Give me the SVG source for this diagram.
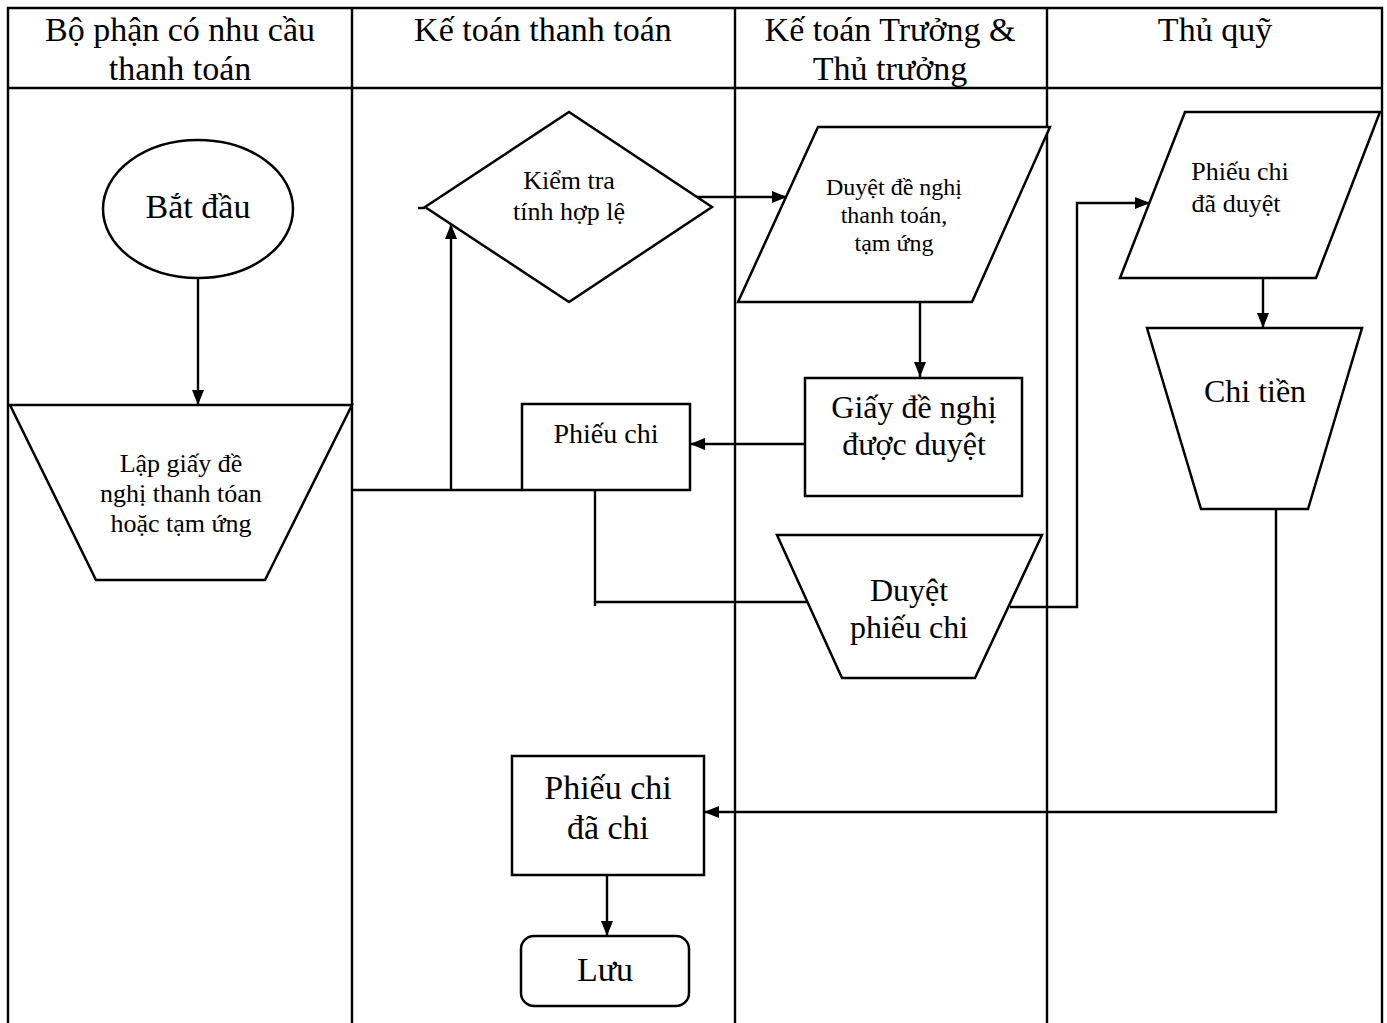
<svg xmlns="http://www.w3.org/2000/svg" width="1387" height="1023" viewBox="0 0 1387 1023">
<defs>
<style>
.ln{stroke:#000;stroke-width:2.4;fill:none}
.sh{stroke:#000;stroke-width:2.5;fill:#fff}
text{font-family:"Liberation Serif","Times New Roman",serif;fill:#000;text-anchor:middle}
.h{font-size:34px}
.t26{font-size:26px}
.t24{font-size:24px}
.t28{font-size:28px}
.t32{font-size:32px}
.t34{font-size:34px}
</style>
<marker id="ah" viewBox="0 0 15 12" refX="15" refY="6" markerWidth="15" markerHeight="12" markerUnits="userSpaceOnUse" orient="auto">
<path d="M0,0 L15,6 L0,12 z" fill="#000"/>
</marker>
</defs>
<rect width="1387" height="1023" fill="#fff"/>
<g id="lanes" font-family="Liberation Serif, serif">
<path class="ln" d="M8,1023 V8 H1382 V1023 M8,88 H1382 M352,8 V1023 M735,8 V1023 M1047,8 V1023"/>
<text class="h" x="180" y="41">Bộ phận có nhu cầu</text>
<text class="h" x="180" y="80">thanh toán</text>
<text class="h" x="543" y="41">Kế toán thanh toán</text>
<text class="h" x="890" y="41">Kế toán Trưởng &amp;</text>
<text class="h" x="890" y="80">Thủ trưởng</text>
<text class="h" x="1215" y="41">Thủ quỹ</text>
</g>
<g id="connectors">
<line class="ln" x1="198" y1="278" x2="198" y2="405" marker-end="url(#ah)"/>
<polyline class="ln" points="352,490 522,490"/>
<polyline class="ln" points="451,490 451,224" marker-end="url(#ah)"/>
<line class="ln" x1="418" y1="208" x2="425" y2="208"/>
<line class="ln" x1="695" y1="197" x2="787" y2="197" marker-end="url(#ah)"/>
<line class="ln" x1="920" y1="302" x2="920" y2="377" marker-end="url(#ah)"/>
<line class="ln" x1="805" y1="444" x2="690" y2="444" marker-end="url(#ah)"/>
<polyline class="ln" points="595,490 595,602 808,602"/>
<line class="ln" x1="595" y1="602" x2="595" y2="606"/>
<polyline class="ln" points="1010,607 1077,607 1077,203 1150,203" marker-end="url(#ah)"/>
<line class="ln" x1="1263" y1="278" x2="1263" y2="328" marker-end="url(#ah)"/>
<polyline class="ln" points="1276,509 1276,812 704,812" marker-end="url(#ah)"/>
<line class="ln" x1="607" y1="875" x2="607" y2="936" marker-end="url(#ah)"/>
</g>
<g id="start">
<ellipse class="sh" cx="198" cy="209" rx="95" ry="69"/>
<text class="t34" x="198" y="218">Bắt đầu</text>
</g>
<g id="lap-giay">
<polygon class="sh" points="10,405 352,405 265,580 96,580"/>
<text class="t26" x="181" y="472">Lập giấy đề</text>
<text class="t26" x="181" y="502">nghị thanh tóan</text>
<text class="t26" x="181" y="532">hoặc  tạm ứng</text>
</g>
<g id="kiem-tra">
<polygon class="sh" points="425,207 569,112 712,207 569,302"/>
<text class="t26" x="569" y="189">Kiểm tra</text>
<text class="t26" x="569" y="220">tính hợp lệ</text>
</g>
<g id="duyet-de-nghi">
<polygon class="sh" points="818,127 1050,127 972,302 738,302"/>
<text class="t24" x="894" y="195">Duyệt đề nghị</text>
<text class="t24" x="894" y="223">thanh toán,</text>
<text class="t24" x="894" y="251">tạm ứng</text>
</g>
<g id="giay-duyet">
<rect class="sh" x="805" y="378" width="217" height="118"/>
<text class="t32" x="914" y="418">Giấy đề nghị</text>
<text class="t32" x="914" y="455">được duyệt</text>
</g>
<g id="phieu-chi">
<rect class="sh" x="522" y="404" width="168" height="86"/>
<text class="t28" x="606" y="443">Phiếu chi</text>
</g>
<g id="duyet-phieu-chi">
<polygon class="sh" points="777,535 1042,535 975,678 842,678"/>
<text class="t32" x="909" y="601">Duyệt</text>
<text class="t32" x="909" y="638">phiếu chi</text>
</g>
<g id="phieu-chi-da-duyet">
<polygon class="sh" points="1185,112 1380,112 1316,278 1120,278"/>
<text class="t26" x="1240" y="180">Phiếu chi</text>
<text class="t26" x="1236" y="212">đã duyệt</text>
</g>
<g id="chi-tien">
<polygon class="sh" points="1147,328 1362,328 1308,509 1201,509"/>
<text class="t32" x="1255" y="402">Chi tiền</text>
</g>
<g id="phieu-chi-da-chi">
<rect class="sh" x="512" y="756" width="192" height="119"/>
<text class="t34" x="608" y="799">Phiếu chi</text>
<text class="t34" x="608" y="839">đã chi</text>
</g>
<g id="luu">
<rect class="sh" x="521" y="936" width="168" height="70" rx="13"/>
<text class="t34" x="605" y="981">Lưu</text>
</g>
</svg>
